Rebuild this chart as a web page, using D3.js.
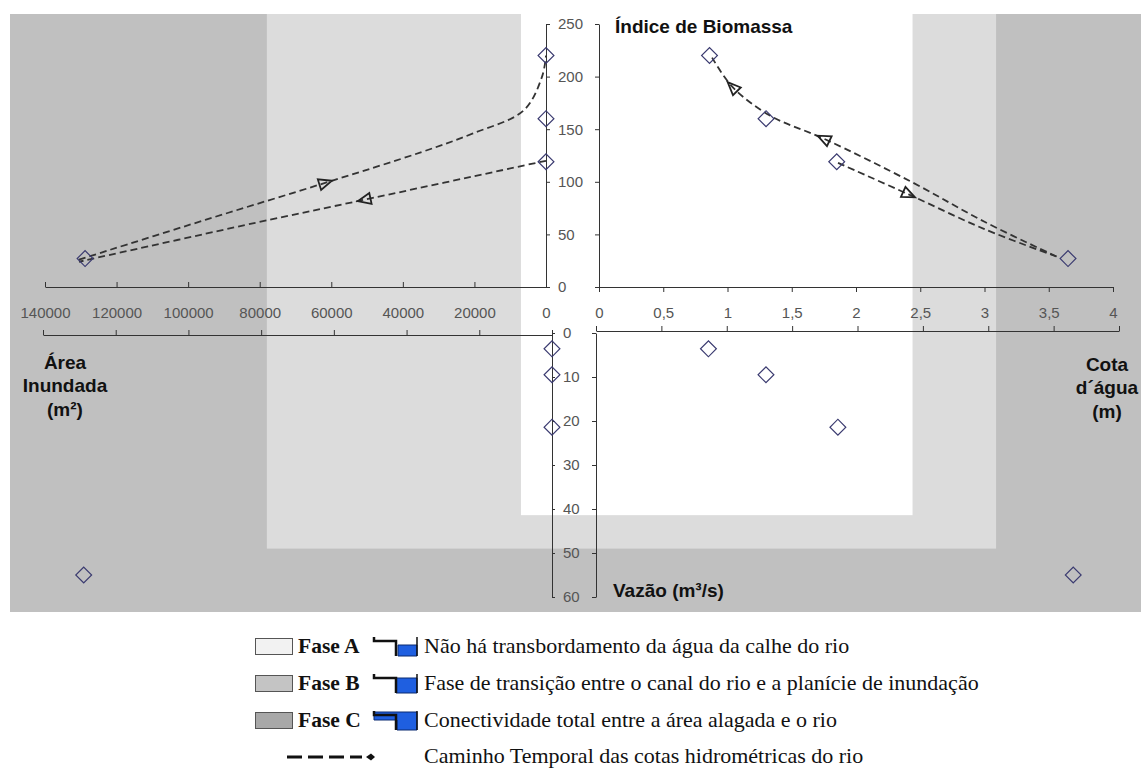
<!DOCTYPE html>
<html>
<head>
<meta charset="utf-8">
<script src="https://cdn.jsdelivr.net/npm/d3@7"></script>
<style>
  body { margin: 0; background: #fff; }
  svg { display: block; }
</style>
</head>
<body>
<div id="chart"></div>
<script>
// quatro observações (datas de campo)
const areaInundada = [0, 0, 0, 128800];
const cotaAgua = [0.86, 1.30, 1.85, 3.65];
const indiceBiomassa = [220, 160, 119, 27];
const vazao = [3.6, 9.5, 21.4, 55];

// ticks
const areaTicks = [140000, 120000, 100000, 80000, 60000, 40000, 20000, 0];
const cotaTicks = [0, 0.5, 1, 1.5, 2, 2.5, 3, 3.5, 4];
const cotaTickLabels = ["0", "0,5", "1", "1,5", "2", "2,5", "3", "3,5", "4"];
const biomassaTicks = [0, 50, 100, 150, 200, 250];
const vazaoTicks = [0, 10, 20, 30, 40, 50, 60];

// limites das fases A e B (fase C = resto)
const limiteArea = [7000, 78000];
const limiteCota = [2.44, 3.09];
const limiteVazao = [41.4, 49];

// caminho temporal (Área x Biomassa)
const caminhoAreaVazante = [[0, 120], [50700, 83], [81200, 61], [130500, 24]];
const caminhoAreaCheia = [[130500, 26], [95000, 64], [61700, 99], [35000, 128], [20400, 146], [6200, 168], [1100, 200], [0, 220]];
// caminho temporal (Cota x Biomassa)
const caminhoCotaCheia = [[1.86, 118], [2.41, 88], [3.0, 55], [3.56, 29]];
const caminhoCotaVazante = [[3.56, 29], [3.0, 62], [2.43, 100], [1.75, 141], [1.33, 163], [1.04, 190], [0.88, 218]];
// onde ficam as setas (índice do ponto)
const setasAreaVazante = [1];
const setasAreaCheia = [2];
const setasCotaCheia = [1];
const setasCotaVazante = [3, 5];

// legenda
const faseNomes = ["Fase A", "Fase B", "Fase C"];
const faseTextos = [
  "Não há transbordamento da água da calhe do rio",
  "Fase de transição entre o canal do rio e a planície de inundação",
  "Conectividade total entre a área alagada e o rio"
];
const caminhoTexto = "Caminho Temporal das cotas hidrométricas do rio";

const W = 1141, H = 769;
const sans = "'Liberation Sans', Arial, sans-serif";
const serif = "'Liberation Serif', 'Times New Roman', serif";

const svg = d3.select("#chart").append("svg")
  .attr("width", W).attr("height", H)
  .style("background", "#fff");

// escalas
const xAreaTop = d3.scaleLinear().domain([140000, 0]).range([45, 546]);
const xAreaBot = d3.scaleLinear().domain([140000, 0]).range([43, 552]);
const xCotaTop = d3.scaleLinear().domain([0, 4]).range([599, 1113]);
const xCotaBot = d3.scaleLinear().domain([0, 4]).range([596, 1119]);
const yBio = d3.scaleLinear().domain([0, 250]).range([287, 24]);
const yVaz = d3.scaleLinear().domain([0, 60]).range([333, 597]);

// fundo das fases
const panelTop = 14, panelBottom = 612, panelLeft = 10;
svg.append("rect")
  .attr("x", panelLeft).attr("y", panelTop)
  .attr("width", W - panelLeft).attr("height", panelBottom - panelTop)
  .attr("fill", "#c0c0c0");

const faseFill = ["#ffffff", "#dcdcdc"];
[1, 0].forEach(i => {
  const x0 = xAreaTop(limiteArea[i]);
  const x1 = xCotaTop(limiteCota[i]);
  svg.append("rect")
    .attr("x", x0).attr("y", panelTop)
    .attr("width", x1 - x0).attr("height", yVaz(limiteVazao[i]) - panelTop)
    .attr("fill", faseFill[i]);
});

// eixos
function estilo(g) {
  g.attr("font-family", sans).attr("font-size", 15);
  g.select(".domain").attr("stroke", "#333");
  g.selectAll(".tick line").attr("stroke", "#333");
  g.selectAll(".tick text").attr("fill", "#555");
}

svg.append("g").attr("transform", "translate(0,287)")
  .call(d3.axisBottom(xAreaTop).tickValues(areaTicks)
    .tickSizeInner(-5).tickSizeOuter(0).tickPadding(20).tickFormat(d3.format("d")))
  .call(estilo);

svg.append("g").attr("transform", "translate(0,287)")
  .call(d3.axisBottom(xCotaTop).tickValues(cotaTicks)
    .tickSizeInner(5).tickSizeOuter(0).tickPadding(15).tickFormat((d, i) => cotaTickLabels[i]))
  .call(estilo);

svg.append("g").attr("transform", "translate(546,0)")
  .call(d3.axisRight(yBio).tickValues(biomassaTicks)
    .tickSizeInner(4).tickSizeOuter(0).tickPadding(8))
  .call(estilo);

svg.append("g").attr("transform", "translate(599,0)")
  .call(d3.axisLeft(yBio).tickValues(biomassaTicks)
    .tickSizeInner(4).tickSizeOuter(0).tickFormat(""))
  .call(estilo);

svg.append("g").attr("transform", "translate(0,335)")
  .call(d3.axisTop(xAreaBot).tickValues(areaTicks)
    .tickSizeInner(5).tickSizeOuter(0).tickFormat(""))
  .call(estilo);

svg.append("g").attr("transform", "translate(0,331)")
  .call(d3.axisTop(xCotaBot).tickValues(cotaTicks)
    .tickSizeInner(5).tickSizeOuter(0).tickFormat(""))
  .call(estilo);

svg.append("g").attr("transform", "translate(552,0)")
  .call(d3.axisRight(yVaz).tickValues(vazaoTicks)
    .tickSizeInner(3).tickSizeOuter(0).tickPadding(8))
  .call(estilo);

svg.append("g").attr("transform", "translate(596,0)")
  .call(d3.axisLeft(yVaz).tickValues(vazaoTicks)
    .tickSizeInner(4).tickSizeOuter(0).tickFormat(""))
  .call(estilo);

// caminhos tracejados + setas
function caminho(pts, xs, ys, setas) {
  const line = d3.line().x(d => xs(d[0])).y(d => ys(d[1]))
    .curve(d3.curveCatmullRom.alpha(0.5));
  svg.append("path")
    .attr("d", line(pts))
    .attr("fill", "none")
    .attr("stroke", "#333")
    .attr("stroke-width", 1.8)
    .attr("stroke-dasharray", "7,4");
  setas.forEach(i => {
    const p = pts[i], a = pts[i - 1], b = pts[i + 1];
    const ang = Math.atan2(ys(b[1]) - ys(a[1]), xs(b[0]) - xs(a[0])) * 180 / Math.PI;
    svg.append("path")
      .attr("d", "M7,0L-6,-5.5L-6,5.5Z")
      .attr("transform", `translate(${xs(p[0])},${ys(p[1])}) rotate(${ang})`)
      .attr("fill", "none")
      .attr("stroke", "#222")
      .attr("stroke-width", 1.8)
      .attr("stroke-linejoin", "miter");
  });
}
caminho(caminhoAreaVazante, xAreaTop, yBio, setasAreaVazante);
caminho(caminhoAreaCheia, xAreaTop, yBio, setasAreaCheia);
caminho(caminhoCotaCheia, xCotaTop, yBio, setasCotaCheia);
caminho(caminhoCotaVazante, xCotaTop, yBio, setasCotaVazante);

// pontos (losangos)
const losango = d3.symbol(d3.symbolSquare, 125)();
function pontos(xv, yv, xs, ys) {
  svg.append("g").selectAll("path")
    .data(xv.map((v, i) => [v, yv[i]]))
    .join("path")
    .attr("d", losango)
    .attr("transform", d => `translate(${xs(d[0])},${ys(d[1])}) rotate(45)`)
    .attr("fill", "none")
    .attr("stroke", "#3b3b70")
    .attr("stroke-width", 1.2);
}
pontos(areaInundada, indiceBiomassa, xAreaTop, yBio);
pontos(cotaAgua, indiceBiomassa, xCotaTop, yBio);
pontos(areaInundada, vazao, xAreaBot, yVaz);
pontos(cotaAgua, vazao, xCotaBot, yVaz);

// títulos dos eixos
const titulo = svg.append("g")
  .attr("font-family", sans).attr("font-weight", "bold")
  .attr("font-size", 19).attr("fill", "#111");
titulo.append("text").attr("x", 615).attr("y", 33).text("Índice de Biomassa");
titulo.append("text").attr("x", 613).attr("y", 597).text("Vazão (m³/s)");
[["Área", 369], ["Inundada", 392], ["(m²)", 416]].forEach(([t, y]) =>
  titulo.append("text").attr("x", 65).attr("y", y).attr("text-anchor", "middle").text(t));
[["Cota", 371], ["d´água", 394], ["(m)", 418]].forEach(([t, y]) =>
  titulo.append("text").attr("x", 1107).attr("y", y).attr("text-anchor", "middle").text(t));

// legenda
const legRows = [647, 684, 721];
const swatchFill = ["#f2f2f2", "#c4c4c4", "#a8a8a8"];
const leg = svg.append("g").attr("font-family", serif).attr("fill", "#111");

faseNomes.forEach((nome, i) => {
  const cy = legRows[i];
  leg.append("rect")
    .attr("x", 255.5).attr("y", cy - 8.5).attr("width", 37).attr("height", 16)
    .attr("fill", swatchFill[i]).attr("stroke", "#555").attr("stroke-width", 1);
  leg.append("text")
    .attr("x", 298).attr("y", cy + 6)
    .attr("font-size", 21.5).attr("font-weight", "bold")
    .text(nome);
  // perfil do rio
  const ic = leg.append("g").attr("transform", `translate(373,${cy - 10})`);
  if (i === 2) {
    ic.append("path").attr("d", "M1,1H44V19H24V9H1Z").attr("fill", "#1f5fe0").attr("stroke", "#0a2a70").attr("stroke-width", 1);
  } else if (i === 1) {
    ic.append("path").attr("d", "M23,4H44V19H23Z").attr("fill", "#1f5fe0").attr("stroke", "#0a2a70").attr("stroke-width", 1);
  } else {
    ic.append("path").attr("d", "M25,8H44V19H25Z").attr("fill", "#1f5fe0").attr("stroke", "#0a2a70").attr("stroke-width", 1);
  }
  ic.append("path")
    .attr("d", "M1,0V4H23V19")
    .attr("fill", "none").attr("stroke", "#111").attr("stroke-width", 2.5);
  ic.append("path")
    .attr("d", "M44,0V19")
    .attr("fill", "none").attr("stroke", "#111").attr("stroke-width", 1.5);
  leg.append("text")
    .attr("x", 424).attr("y", cy + 6)
    .attr("font-size", 22)
    .text(faseTextos[i]);
});

leg.append("line")
  .attr("x1", 287).attr("x2", 362).attr("y1", 757).attr("y2", 757)
  .attr("stroke", "#111").attr("stroke-width", 3).attr("stroke-dasharray", "15,6");
leg.append("path")
  .attr("d", "M366,757L371,753.5L375,757L371,760.5Z")
  .attr("fill", "#111");
leg.append("text")
  .attr("x", 424).attr("y", 763)
  .attr("font-size", 22)
  .text(caminhoTexto);
</script>
</body>
</html>
